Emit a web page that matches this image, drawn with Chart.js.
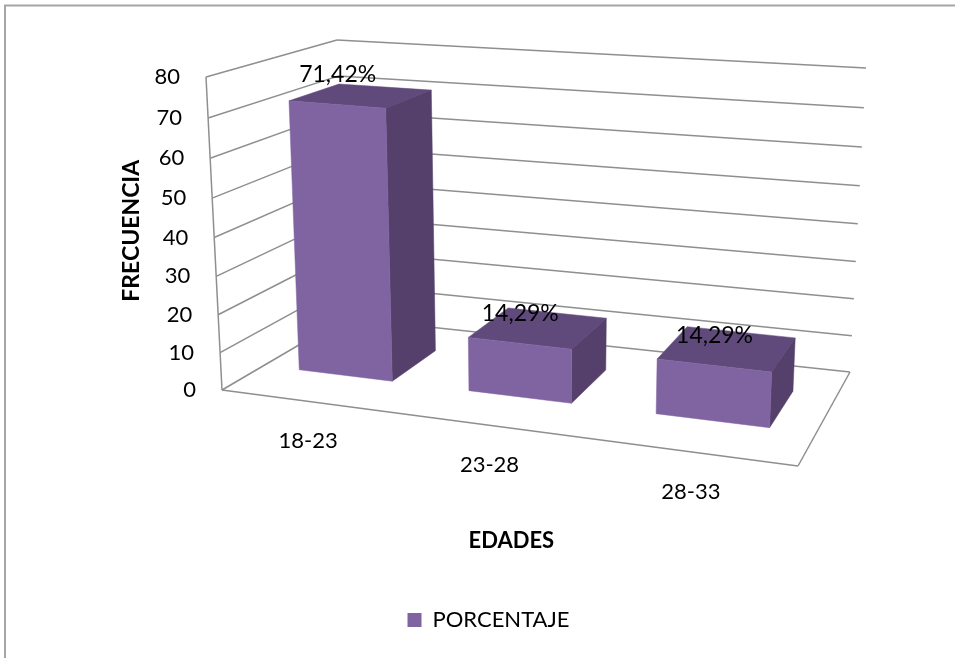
<!DOCTYPE html>
<html>
<head>
<meta charset="utf-8">
<style>html,body{margin:0;padding:0;background:#fff}canvas{display:block}</style>
<script src="https://cdn.jsdelivr.net/npm/chart.js@4"></script>
</head>
<body>
<canvas id="c" width="955" height="658"></canvas>
<script>
const categories = ['18-23', '23-28', '28-33'];
const seriesName = 'PORCENTAJE';
const porcentaje = [71.42, 14.29, 14.29];
const yTitle = 'FRECUENCIA';
const xTitle = 'EDADES';

const FONT = 'Lato, "Open Sans", sans-serif';
const GRID = '#8f8f8f';

// Perspective box: screen corners of the 3D plot volume [u][v][w]
const box = {
  '000': [222, 390], '010': [206, 77],
  '100': [798, 466], '110': [812, 125],
  '001': [345, 318], '011': [337, 40],
  '101': [850, 372], '111': [866, 68]
};
const persp = { g: -0.145, h: -0.05, i: 0.155 };
const depth = { front: 0.31, back: 0.71 };

function project(u, v, w) {
  let x = 0, y = 0, d = 0;
  for (const a of [0, 1]) for (const b of [0, 1]) for (const c of [0, 1]) {
    const t = (a ? u : 1 - u) * (b ? v : 1 - v) * (c ? w : 1 - w);
    const k = t * (1 + persp.g * a + persp.h * b + persp.i * c);
    const p = box['' + a + b + c];
    x += k * p[0]; y += k * p[1]; d += k;
  }
  return [x / d, y / d];
}
function poly(ctx, pts, fill) {
  ctx.beginPath();
  pts.forEach((p, i) => i ? ctx.lineTo(p[0], p[1]) : ctx.moveTo(p[0], p[1]));
  ctx.closePath();
  ctx.fillStyle = fill;
  ctx.fill();
  ctx.strokeStyle = fill;
  ctx.lineWidth = 0.5;
  ctx.stroke();
}
function line(ctx, a, b) {
  ctx.beginPath(); ctx.moveTo(a[0], a[1]); ctx.lineTo(b[0], b[1]); ctx.stroke();
}

const scene3d = {
  id: 'scene3d',
  beforeDraw(chart) {
    const ctx = chart.ctx;
    ctx.save();
    ctx.fillStyle = '#fff';
    ctx.fillRect(0, 0, chart.width, chart.height);
    ctx.strokeStyle = '#a6a6a6';
    ctx.lineWidth = 2;
    ctx.beginPath();
    ctx.moveTo(5, chart.height); ctx.lineTo(5, 5.5); ctx.lineTo(chart.width, 5.5);
    ctx.stroke();
    ctx.restore();
  },
  beforeDatasetsDraw(chart) {
    const ctx = chart.ctx, a = chart.chartArea;
    const ys = chart.scales.y, xs = chart.scales.x;
    const vOf = px => (a.bottom - px) / (a.bottom - a.top);
    ctx.save();
    // walls and floor
    ctx.strokeStyle = GRID;
    ctx.lineWidth = 1.5;
    ys.ticks.forEach(t => {
      const v = vOf(ys.getPixelForValue(t.value));
      line(ctx, project(0, v, 0), project(0, v, 1));
      line(ctx, project(0, v, 1), project(1, v, 1));
    });
    line(ctx, project(0, 0, 0), project(0, 1, 0));
    line(ctx, project(0, 0, 0), project(1, 0, 0));
    line(ctx, project(1, 0, 0), project(1, 0, 1));
    // y tick labels
    ctx.fillStyle = '#000';
    ctx.font = '22px ' + FONT;
    ctx.textAlign = 'right';
    ctx.textBaseline = 'middle';
    ys.ticks.forEach(t => {
      const p = project(0, vOf(ys.getPixelForValue(t.value)), 0);
      ctx.fillText(t.label, p[0] - 26, p[1]);
    });
    // category labels
    ctx.textAlign = 'center';
    ctx.font = '22px ' + FONT;
    xs.ticks.forEach((t, i) => {
      const u = (xs.getPixelForValue(i) - a.left) / (a.right - a.left);
      const p = project(u, 0, 0);
      ctx.fillText(categories[i], p[0] + 2, p[1] + 40);
    });
    // bars
    const meta = chart.getDatasetMeta(0);
    const w0 = depth.front, w1 = depth.back;
    meta.data.forEach(el => {
      const u0 = (el.x - el.width / 2 - a.left) / (a.right - a.left);
      const u1 = (el.x + el.width / 2 - a.left) / (a.right - a.left);
      const v = vOf(el.y), b = vOf(el.base);
      poly(ctx, [project(u0, v, w0), project(u1, v, w0), project(u1, v, w1), project(u0, v, w1)], '#604a7b');
      poly(ctx, [project(u1, b, w0), project(u1, v, w0), project(u1, v, w1), project(u1, b, w1)], '#54406a');
      poly(ctx, [project(u0, b, w0), project(u1, b, w0), project(u1, v, w0), project(u0, v, w0)], '#8064a2');
    });
    // value labels
    ctx.fillStyle = '#000';
    ctx.font = '23px ' + FONT;
    meta.data.forEach((el, i) => {
      const u = (el.x - a.left) / (a.right - a.left);
      const p = project(u, vOf(el.y), w0);
      ctx.fillText(porcentaje[i].toFixed(2).replace('.', ',') + '%', p[0] + 1, p[1] - 30);
    });
    ctx.restore();
    return false;
  }
};

new Chart(document.getElementById('c'), {
  type: 'bar',
  data: {
    labels: categories,
    datasets: [{ label: seriesName, data: porcentaje, backgroundColor: '#8064a2', barPercentage: 0.56, categoryPercentage: 1 }]
  },
  options: {
    responsive: false,
    animation: false,
    events: [],
    layout: { padding: { left: 112, right: 90, top: 12, bottom: 17 } },
    plugins: {
      tooltip: { enabled: false },
      legend: {
        position: 'bottom',
        labels: { color: '#000', boxWidth: 14, boxHeight: 14, padding: 10, font: { family: FONT, size: 22 } }
      }
    },
    scales: {
      x: {
        grid: { display: false }, border: { display: false }, ticks: { display: false },
        title: { display: true, text: xTitle, color: '#000', font: { family: FONT, size: 22, weight: 'bold' }, padding: { top: 70, bottom: 45 } }
      },
      y: {
        min: 0, max: 80,
        grid: { display: false }, border: { display: false },
        ticks: { display: false, stepSize: 10 },
        title: { display: true, text: yTitle, color: '#000', font: { family: FONT, size: 23, weight: 'bold' }, padding: { top: 6, bottom: 4 } }
      }
    }
  },
  plugins: [scene3d]
});
</script>
</body>
</html>
